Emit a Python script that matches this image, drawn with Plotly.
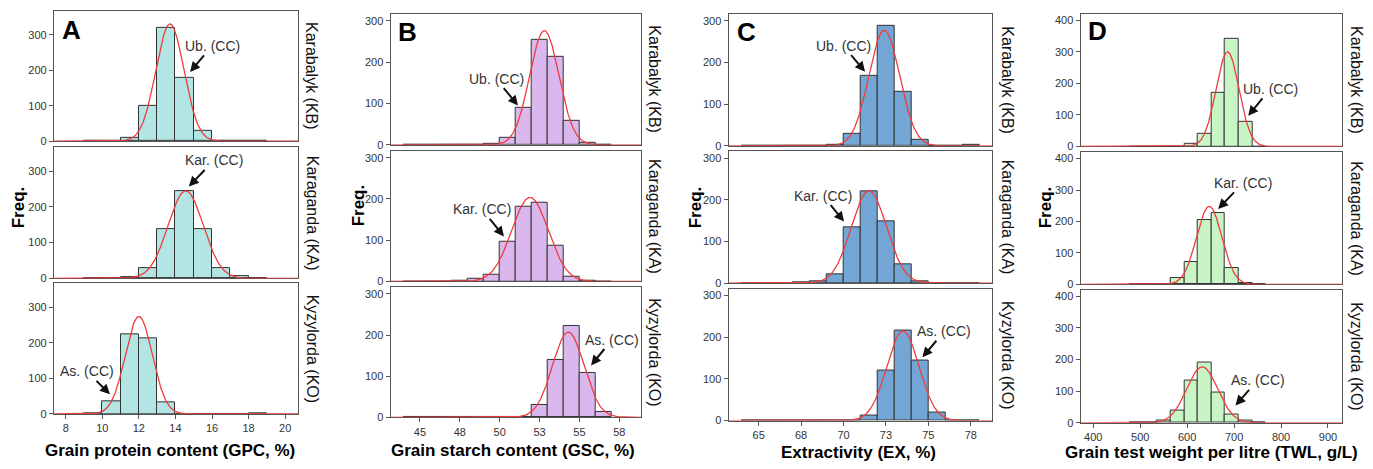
import numpy as np
import plotly.graph_objects as go

W, H = 1373, 469

site_names = ["Karabalyk (KB)", "Karaganda (KA)", "Kyzylorda (KO)"]
check_names = ["Ub. (CC)", "Kar. (CC)", "As. (CC)"]

# ---- A: Grain protein content ----
gpc_bin_left = [9, 10, 11, 12, 13, 14, 15, 16, 17, 18]
gpc_bin_width = 1
gpc_kb = [0, 0, 8, 100, 318, 178, 30, 2, 1, 0]
gpc_ka = [0, 0, 3, 28, 139, 244, 139, 28, 7, 1]
gpc_ko = [2, 36, 224, 213, 32, 0, 0, 0, 0, 1]
gpc_mean = [13.7, 14.56, 12.0]
gpc_sd = [0.77, 0.96, 0.74]
gpc_ticks = [8, 10, 12, 14, 16, 18, 20]
gpc_ticktext = ["8", "10", "12", "14", "16", "18", "20"]
gpc_check_x = [14.8, 14.73, 10.42]
gpc_check_y = [195, 257, 55]

# ---- B: Grain starch content ----
gsc_bin_left = [44, 45, 46, 47, 48, 49, 50, 51, 52, 53, 54, 55, 56]
gsc_bin_width = 1
gsc_kb = [0, 0, 0, 0, 0, 2, 17, 89, 254, 213, 57, 5, 0]
gsc_ka = [0, 0, 0, 1, 6, 15, 95, 181, 191, 86, 11, 1, 0]
gsc_ko = [1, 0, 0, 0, 0, 0, 0, 1, 30, 140, 222, 107, 13]
gsc_mean = [52.8, 51.9, 54.3]
gsc_sd = [0.92, 1.15, 0.99]
gsc_ticks = [45, 47.5, 50, 52.5, 55, 57.5]
gsc_ticktext = ["45", "48", "50", "53", "55", "58"]
gsc_check_x = [51.15, 50.27, 55.73]
gsc_check_y = [95, 109, 126]

# ---- C: Extractivity ----
ex_bin_left = [64, 65, 66, 67, 68, 69, 70, 71, 72, 73, 74, 75, 76, 77]
ex_bin_width = 1
ex_kb = [0, 0, 0, 1, 0, 2, 28, 167, 289, 129, 15, 0, 0, 2]
ex_ka = [0, 0, 0, 2, 5, 22, 133, 221, 148, 44, 3, 0, 0, 0]
ex_ko = [1, 0, 1, 0, 0, 0, 0, 11, 120, 217, 143, 19, 0, 0]
ex_mean = [72.4, 71.5, 73.5]
ex_sd = [0.91, 1.04, 0.95]
ex_ticks = [65, 67.5, 70, 72.5, 75, 77.5]
ex_ticktext = ["65", "68", "70", "73", "75", "78"]
ex_check_x = [71.27, 70.03, 74.65]
ex_check_y = [178, 148, 152]

# ---- D: Grain test weight per litre ----
twl_bin_left = [478, 507, 536, 565, 594, 623, 652, 681, 710, 739]
twl_bin_width = 29
twl_kb = [0, 0, 0, 0, 8, 39, 170, 341, 77, 0]
twl_ka = [0, 0, 0, 19, 70, 206, 227, 53, 4, 0]
twl_ko = [1, 0, 8, 38, 135, 190, 96, 27, 8, 1]
twl_mean = [686, 647, 632]
twl_sd = [24.5, 27.0, 33.0]
twl_ticks = [400, 500, 600, 700, 800, 900]
twl_ticktext = ["400", "500", "600", "700", "800", "900"]
twl_check_x = [730, 666, 703]
twl_check_y = [97, 240, 55]

panels = [
    dict(letter="A", left=gpc_bin_left, w=gpc_bin_width, counts=[gpc_kb, gpc_ka, gpc_ko],
         mean=gpc_mean, sd=gpc_sd, ticks=gpc_ticks, ticktext=gpc_ticktext,
         cx=gpc_check_x, cy=gpc_check_y,
         color="#b3e5e5", xr=[7.36, 20.7], yr=[0, 367], yt=[0, 100, 200, 300],
         xpx=(54, 298), rows=[(11, 143), (149, 282), (287, 419.3)],
         title="Grain protein content (GPC, %)", tpos=(170, 456.5),
         lpos=(71.5, 30), sitex=312, fpos=(18, 210),
         offs=[(22, -26), (25, -26), (-23, -23)]),
    dict(letter="B", left=gsc_bin_left, w=gsc_bin_width, counts=[gsc_kb, gsc_ka, gsc_ko],
         mean=gsc_mean, sd=gsc_sd, ticks=gsc_ticks, ticktext=gsc_ticktext,
         cx=gsc_check_x, cy=gsc_check_y,
         color="#dab8ee", xr=[43.17, 58.86], yr=[0, 317], yt=[0, 100, 200, 300],
         xpx=(390.7, 641), rows=[(14, 146.7), (152.7, 285), (290.7, 422.7)],
         title="Grain starch content (GSC, %)", tpos=(513.3, 456.5),
         lpos=(407, 32), sitex=655, fpos=(358, 208),
         offs=[(-22, -27), (-22, -27), (21, -26)]),
    dict(letter="C", left=ex_bin_left, w=ex_bin_width, counts=[ex_kb, ex_ka, ex_ko],
         mean=ex_mean, sd=ex_sd, ticks=ex_ticks, ticktext=ex_ticktext,
         cx=ex_check_x, cy=ex_check_y,
         color="#74a6d5", xr=[63.23, 78.77], yr=[0, 317], yt=[0, 100, 200, 300],
         xpx=(728.7, 992.3), rows=[(14, 147.7), (153.3, 286.7), (292.3, 426)],
         title="Extractivity (EX, %)", tpos=(858.3, 458.5),
         lpos=(746.5, 32), sitex=1007.5, fpos=(695, 210),
         offs=[(-22, -26), (-21, -26), (22, -26)]),
    dict(letter="D", left=twl_bin_left, w=twl_bin_width, counts=[twl_kb, twl_ka, twl_ko],
         mean=twl_mean, sd=twl_sd, ticks=twl_ticks, ticktext=twl_ticktext,
         cx=twl_check_x, cy=twl_check_y,
         color="#c9f5c6", xr=[373.2, 929.2], yr=[0, 421], yt=[0, 100, 200, 300, 400],
         xpx=(1080.7, 1341.7), rows=[(14, 148.3), (154, 288), (293.3, 428.3)],
         title="Grain test weight per litre (TWL, g/L)", tpos=(1211.7, 458.5),
         lpos=(1097, 31), sitex=1357, fpos=(1045, 210),
         offs=[(22, -27), (25, -26), (22, -25)]),
]

FONT = "Liberation Sans, Arial, sans-serif"
fig = go.Figure()
layout = dict(width=W, height=H, margin=dict(l=0, r=0, t=0, b=0),
              paper_bgcolor="white", plot_bgcolor="white", showlegend=False,
              font=dict(family=FONT, color="#222"))
annotations = []

for c, p in enumerate(panels):
    for r in range(3):
        idx = c * 3 + r + 1
        xa = "x" if idx == 1 else f"x{idx}"
        ya = "y" if idx == 1 else f"y{idx}"
        xk = "xaxis" if idx == 1 else f"xaxis{idx}"
        yk = "yaxis" if idx == 1 else f"yaxis{idx}"
        counts = p["counts"][r]
        centers = [b + p["w"] / 2 for b in p["left"]]
        fig.add_trace(go.Bar(x=centers, y=counts, width=p["w"], xaxis=xa, yaxis=ya,
                             marker=dict(color=p["color"], line=dict(color="#333", width=1))))
        n = sum(counts)
        xs = np.linspace(p["xr"][0], p["xr"][1], 500)
        mu, sd = p["mean"][r], p["sd"][r]
        ys = n * p["w"] * np.exp(-0.5 * ((xs - mu) / sd) ** 2) / (sd * np.sqrt(2 * np.pi))
        fig.add_trace(go.Scatter(x=xs, y=ys, mode="lines", xaxis=xa, yaxis=ya,
                                 line=dict(color="#f03c3c", width=1.3), hoverinfo="skip"))
        top, bot = p["rows"][r]
        bottom_row = (r == 2)
        layout[xk] = dict(domain=[p["xpx"][0] / W, p["xpx"][1] / W], anchor=ya,
                          range=p["xr"], showgrid=False, zeroline=False,
                          showline=True, mirror=True, linecolor="#555", linewidth=1.3,
                          ticks="outside" if bottom_row else "", ticklen=4, tickcolor="#555",
                          tickvals=p["ticks"], ticktext=p["ticktext"],
                          showticklabels=bottom_row,
                          tickfont=dict(size=11, color="#333", family=FONT),
                          layer="below traces")
        layout[yk] = dict(domain=[1 - bot / H, 1 - top / H], anchor=xa,
                          range=p["yr"], showgrid=False, zeroline=False,
                          showline=True, mirror=True, linecolor="#555", linewidth=1.3,
                          ticks="outside", ticklen=4, tickcolor="#555",
                          tickvals=p["yt"],
                          tickfont=dict(size=11, color="#333", family=FONT))
        # site label
        annotations.append(dict(xref="paper", yref="paper", x=p["sitex"] / W,
                                y=1 - (top + bot) / 2 / H, text=site_names[r],
                                textangle=90, showarrow=False, xanchor="center", yanchor="middle",
                                font=dict(size=16, color="#111", family=FONT)))
        # check cultivar arrow
        ox, oy = p["offs"][r]
        annotations.append(dict(xref=xa, yref=ya, x=p["cx"][r], y=p["cy"][r],
                                text=check_names[r], showarrow=True, ax=ox, ay=oy,
                                arrowhead=2, arrowsize=1, arrowwidth=2, arrowcolor="#111",
                                standoff=0, font=dict(size=14, color="#333", family=FONT)))
    # letter
    annotations.append(dict(xref="paper", yref="paper", x=p["lpos"][0] / W, y=1 - p["lpos"][1] / H,
                            text=f"<b>{p['letter']}</b>", showarrow=False,
                            xanchor="center", yanchor="middle",
                            font=dict(size=26, color="black", family=FONT)))
    # Freq.
    annotations.append(dict(xref="paper", yref="paper", x=p["fpos"][0] / W, y=1 - p["fpos"][1] / H,
                            text="<b>Freq.</b>", showarrow=False, textangle=-90,
                            xanchor="center", yanchor="middle",
                            font=dict(size=17, color="black", family=FONT)))
    # x title
    annotations.append(dict(xref="paper", yref="paper", x=p["tpos"][0] / W, y=1 - p["tpos"][1] / H,
                            text=f"<b>{p['title']}</b>", showarrow=False,
                            xanchor="center", yanchor="middle",
                            font=dict(size=17, color="black", family=FONT)))

layout["annotations"] = annotations
layout["bargap"] = 0
fig.update_layout(**layout)
fig.write_html("out.html", config={"displayModeBar": False},
               post_script="document.body.style.margin='0';document.body.style.overflow='hidden';")
